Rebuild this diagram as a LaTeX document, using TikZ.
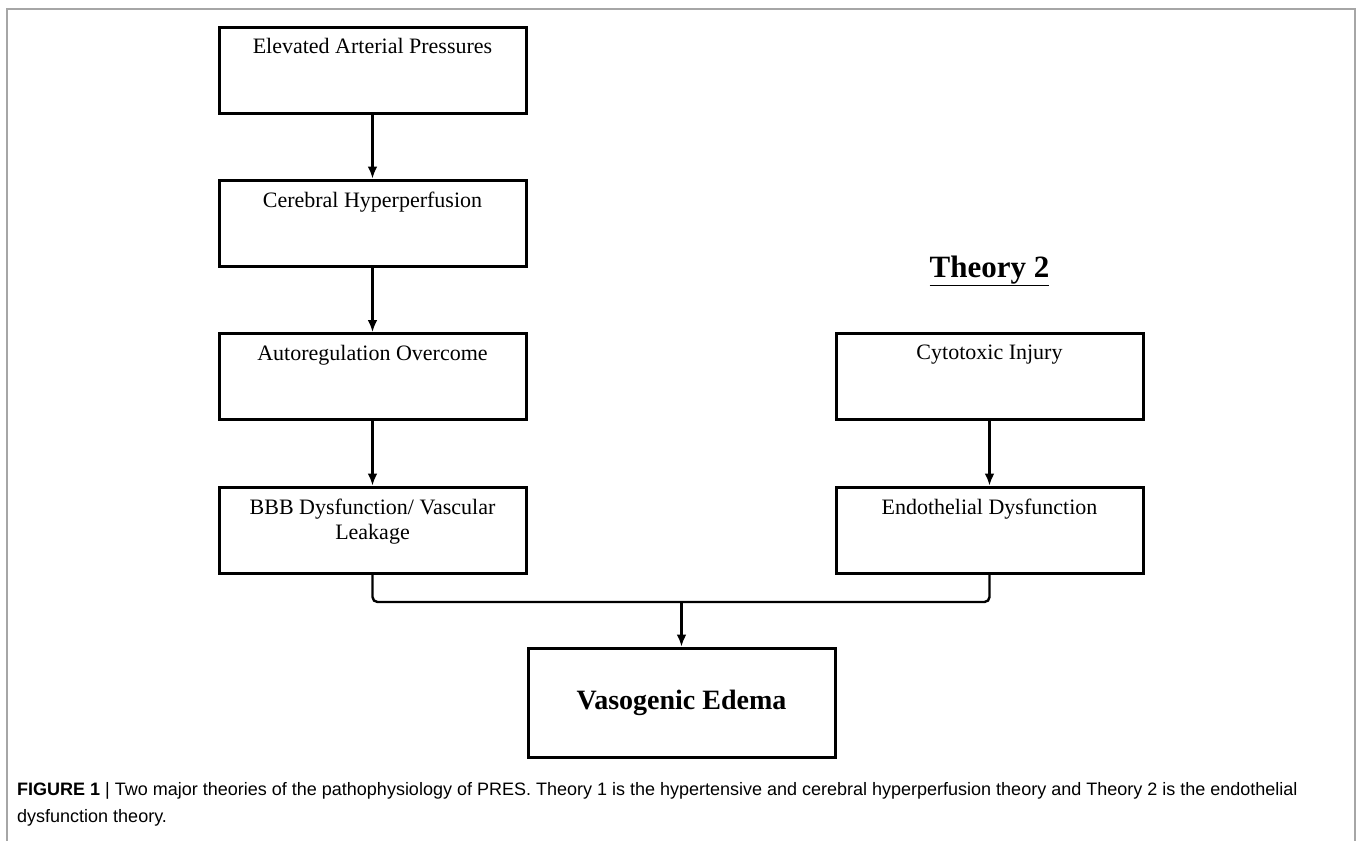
\documentclass[tikz,border=0pt]{standalone}
\usepackage{fontspec}
\setmainfont{Liberation Serif}
\newfontfamily\capfont{Liberation Sans}
\usetikzlibrary{positioning,arrows.meta}

\begin{document}
\begin{tikzpicture}[x=1pt,y=-1pt,
  box/.style={draw,line width=3pt,minimum width=307pt,minimum height=86pt,inner sep=0pt},
  boxtext/.style={anchor=north,yshift=-13pt,inner sep=0pt,align=center,font=\fontsize{22}{25}\selectfont},
  link/.style={line width=2.4pt,-{Latex[length=12pt,width=10pt]}}]
\useasboundingbox (0,0) rectangle (1358,841);
\draw[gray!70,line width=1.5pt] (7,841) -- (7,9) -- (1355,9) -- (1355,841);

% theory 1
\node[box] (elev) at (372.5,70) {};
\node[box] (hyper) at (372.5,223) {};
\node[box] (auto) at (372.5,376.5) {};
\node[box] (bbb) at (372.5,530) {};
\node[boxtext] (elevtxt) at (elev.north) {Elevated Arterial Pressures};
\node[boxtext] (hypertxt) at (hyper.north) {Cerebral Hyperperfusion};
\node[boxtext] (autotxt) at (auto.north) {Autoregulation Overcome};
\node[boxtext] (bbbtxt) at (bbb.north) {BBB Dysfunction/ Vascular\\Leakage};
\draw[link] (elev) -- (hyper);
\draw[link] (hyper) -- (auto);
\draw[link] (auto) -- (bbb);

% theory 2
\node[anchor=base,inner sep=0pt,font=\bfseries\fontsize{31}{33}\selectfont] (th2) at (989.5,277) {\underline{Theory 2}};
\node[box] (cyto) at (989.5,376.5) {};
\node[box] (endo) at (989.5,530) {};
\node[boxtext] (cytotxt) at (cyto.north) {Cytotoxic Injury};
\node[boxtext] (endotxt) at (endo.north) {Endothelial Dysfunction};
\draw[link] (cyto) -- (endo);

% both lead to edema
\node[box,minimum height=109pt,font=\bfseries\fontsize{28}{30}\selectfont] (edema) at (681.5,702.5) {Vasogenic Edema};
\coordinate (join) at (681.5,602);
\draw[line width=2.4pt,rounded corners=5pt] (bbb.south) |- (join) -| (endo.south);
\draw[link] (join) -- (edema);

\node[anchor=north west,inner sep=0pt,align=left,font=\capfont\fontsize{18}{27}\selectfont] (cap) at (17,782)
  {\textbf{FIGURE 1} | Two major theories of the pathophysiology of PRES. Theory 1 is the hypertensive and cerebral hyperperfusion theory and Theory 2 is the endothelial\\dysfunction theory.};
\end{tikzpicture}
\end{document}
